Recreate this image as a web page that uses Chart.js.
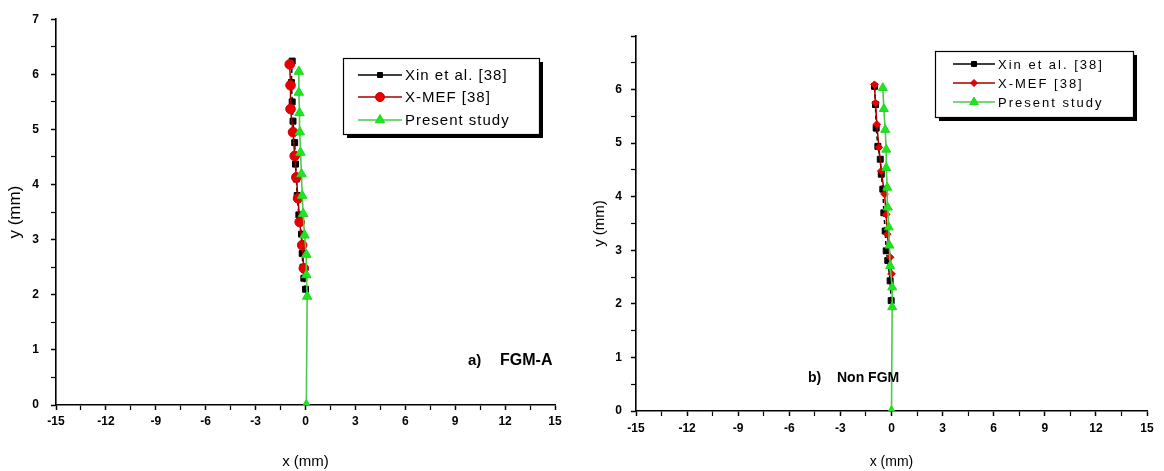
<!DOCTYPE html>
<html><head><meta charset="utf-8">
<script src="https://cdn.jsdelivr.net/npm/chart.js@4/dist/chart.umd.min.js"></script>
<style>
html,body{margin:0;padding:0;background:#fff;}
#wrap{position:relative;width:1164px;height:471px;overflow:hidden;}
.c{position:absolute;top:0;width:582px;height:471px;}
</style></head><body>
<div id="wrap">
<div class="c" style="left:0"><canvas id="ca" width="582" height="471"></canvas></div>
<div class="c" style="left:582px"><canvas id="cb" width="582" height="471"></canvas></div>
</div>
<script>
// ---------- data ----------
const seriesLabels = ["Xin et al. [38]", "X-MEF [38]", "Present study"];
const xTickValues = [-15, -12, -9, -6, -3, 0, 3, 6, 9, 12, 15];
const yTickValuesA = [0, 1, 2, 3, 4, 5, 6, 7];
const yTickValuesB = [0, 1, 2, 3, 4, 5, 6];

// (a) FGM-A
const xinA_x = [0, -0.1, -0.15, -0.2, -0.24, -0.4, -0.5, -0.55, -0.6, -0.65, -0.75, -0.8, -0.85, -0.8];
const xinA_y = [2.1, 2.3, 2.5, 2.75, 3.1, 3.45, 3.8, 4.1, 4.37, 4.76, 5.15, 5.5, 5.85, 6.24];
const mefA_x = [-0.1, -0.2, -0.35, -0.45, -0.55, -0.65, -0.75, -0.9, -0.9, -0.95];
const mefA_y = [2.48, 2.9, 3.32, 3.75, 4.13, 4.52, 4.95, 5.37, 5.8, 6.18];
const presA_x = [0.05, 0.1, 0.05, 0.05, -0.06, -0.14, -0.2, -0.24, -0.3, -0.34, -0.36, -0.4, -0.4];
const presA_y = [0, 1.97, 2.36, 2.73, 3.08, 3.47, 3.8, 4.19, 4.58, 4.95, 5.3, 5.67, 6.05];

// (b) Non FGM
const xinB_x = [-0.02, -0.08, -0.22, -0.31, -0.37, -0.45, -0.51, -0.6, -0.66, -0.8, -0.9, -0.94, -1.0];
const xinB_y = [2.06, 2.43, 2.81, 2.99, 3.36, 3.7, 4.14, 4.42, 4.7, 4.94, 5.28, 5.72, 6.06];
const mefB_x = [0.0, -0.08, -0.25, -0.31, -0.41, -0.6, -0.74, -0.86, -0.94, -1.0];
const mefB_y = [2.56, 2.87, 3.3, 3.67, 4.05, 4.48, 4.92, 5.35, 5.75, 6.09];
const presB_x = [0, 0.04, 0.04, -0.08, -0.12, -0.16, -0.22, -0.25, -0.31, -0.31, -0.37, -0.45, -0.51];
const presB_y = [0, 1.94, 2.31, 2.71, 3.09, 3.43, 3.8, 4.17, 4.54, 4.88, 5.25, 5.64, 6.03];

const zip = (xs, ys) => xs.map((x, i) => ({x: x, y: ys[i]}));

// ---------- helpers ----------
function drawMarker(ctx, style, x, y, r, fill, stroke) {
  ctx.save();
  ctx.fillStyle = fill; ctx.strokeStyle = stroke || fill; ctx.lineWidth = 1; ctx.setLineDash([]);
  ctx.beginPath();
  if (style === 'rect') {
    const s = r * Math.SQRT1_2;
    ctx.rect(x - s, y - s, 2 * s, 2 * s);
  } else if (style === 'rectRot') {
    ctx.moveTo(x, y - r); ctx.lineTo(x + r, y); ctx.lineTo(x, y + r); ctx.lineTo(x - r, y); ctx.closePath();
  } else if (style === 'triangle') {
    const w = r * Math.sqrt(3) / 2;
    ctx.moveTo(x, y - r); ctx.lineTo(x + w, y + r / 2); ctx.lineTo(x - w, y + r / 2); ctx.closePath();
  } else {
    ctx.arc(x, y, r, 0, Math.PI * 2);
  }
  ctx.fill(); ctx.stroke();
  ctx.restore();
}

const boxLegend = {
  id: 'boxLegend',
  afterDraw(chart, args, o) {
    const ctx = chart.ctx;
    ctx.save();
    ctx.fillStyle = '#000';
    ctx.fillRect(o.x + 4, o.y + 4, o.w, o.h);
    ctx.fillStyle = '#fff';
    ctx.fillRect(o.x, o.y, o.w, o.h);
    ctx.strokeStyle = '#000'; ctx.lineWidth = 1.2;
    ctx.strokeRect(o.x + 0.5, o.y + 0.5, o.w, o.h);
    chart.data.datasets.forEach((ds, i) => {
      const y = o.rows[i];
      ctx.strokeStyle = ds.borderColor; ctx.lineWidth = 1.5; ctx.setLineDash([]);
      ctx.beginPath(); ctx.moveTo(o.l0, y); ctx.lineTo(o.l1, y); ctx.stroke();
      drawMarker(ctx, ds.pointStyle, (o.l0 + o.l1) / 2, y, o.mr[i], ds.pointBackgroundColor, ds.pointBorderColor);
      ctx.fillStyle = '#000'; ctx.font = o.font;
      ctx.textBaseline = 'middle'; ctx.textAlign = 'left';
      if ('letterSpacing' in ctx) ctx.letterSpacing = o.ls;
      ctx.fillText(ds.label, o.tx, y + 1);
      if ('letterSpacing' in ctx) ctx.letterSpacing = '0px';
    });
    ctx.restore();
  }
};

const notes = {
  id: 'notes',
  afterDraw(chart, args, o) {
    const ctx = chart.ctx;
    ctx.save();
    ctx.fillStyle = '#000'; ctx.textBaseline = 'middle'; ctx.textAlign = 'left';
    o.items.forEach(t => { ctx.font = t.font; ctx.fillText(t.text, t.x, t.y); });
    ctx.restore();
  }
};

function makeDatasets(xinX, xinY, mefX, mefY, presX, presY, mefStyle, sizes) {
  return [
    {label: seriesLabels[0], data: zip(xinX, xinY), showLine: true, borderColor: '#000', borderWidth: 1.5,
     borderDash: [4, 3], pointStyle: 'rect', pointRadius: sizes[0], pointBackgroundColor: '#000',
     pointBorderColor: '#000', pointBorderWidth: 1, order: 2},
    {label: seriesLabels[1], data: zip(mefX, mefY), showLine: true, borderColor: '#a00000', borderWidth: 1.5,
     pointStyle: mefStyle, pointRadius: sizes[1], pointBackgroundColor: '#e60000',
     pointBorderColor: '#d00000', pointBorderWidth: 1, order: 1},
    {label: seriesLabels[2], data: zip(presX, presY), showLine: true, borderColor: '#4cc94c', borderWidth: 1.6,
     pointStyle: 'triangle', pointRadius: sizes[2], pointBackgroundColor: '#1ee61e',
     pointBorderColor: '#1ed81e', pointBorderWidth: 1, order: 0}
  ];
}

function makeOptions(cfg) {
  const isMajorX = v => xTickValues.some(t => Math.abs(t - v) < 1e-6);
  const isMajorY = v => cfg.yLabels.some(t => Math.abs(t - v) < 1e-6);
  return {
    responsive: false, animation: false,
    layout: {padding: cfg.pad},
    plugins: {
      legend: {display: false}, tooltip: {enabled: false},
      boxLegend: cfg.legend, notes: {items: cfg.notes}
    },
    scales: {
      x: {
        type: 'linear', min: -15, max: 15,
        afterFit: s => { s.height = cfg.xH; },
        afterBuildTicks: s => { const t = []; for (let v = -15; v <= 15.0001; v += 1.5) t.push({value: Math.round(v * 10) / 10}); s.ticks = t; },
        ticks: {autoSkip: false, maxRotation: 0, color: '#000', padding: cfg.xTickPad,
          font: {family: 'Liberation Sans, Arial, sans-serif', size: 12, weight: 'bold'},
          callback: v => isMajorX(v) ? String(Math.round(v)) : ''},
        grid: {drawOnChartArea: false, drawTicks: true, tickLength: 5, tickColor: '#000',
          tickWidth: c => (c.tick && isMajorX(c.tick.value)) ? 1.5 : 1.2},
        border: {display: true, color: '#000', width: 1.6},
        title: {display: true, text: 'x (mm)', color: '#000', padding: {top: cfg.xTitlePad, bottom: 0},
          font: {family: 'Liberation Sans, Arial, sans-serif', size: cfg.xTitleSize}}
      },
      y: {
        type: 'linear', min: 0, max: 7,
        afterFit: s => { s.width = cfg.yW; },
        afterBuildTicks: s => { const t = []; for (let v = 0; v <= 7.0001; v += 0.5) t.push({value: v}); s.ticks = t; },
        ticks: {autoSkip: false, color: '#000', padding: cfg.yTickPad,
          font: {family: 'Liberation Sans, Arial, sans-serif', size: 12, weight: 'bold'},
          callback: v => isMajorY(v) ? String(Math.round(v)) : ''},
        grid: {drawOnChartArea: false, drawTicks: true, tickLength: 5, tickColor: '#000',
          tickWidth: c => (c.tick && Number.isInteger(c.tick.value)) ? 1.5 : 1.2},
        border: {display: true, color: '#000', width: 1.6},
        title: {display: true, text: 'y (mm)', color: '#000', padding: {top: cfg.yTitlePad, bottom: 0},
          font: {family: 'Liberation Sans, Arial, sans-serif', size: cfg.yTitleSize}}
      }
    }
  };
}

new Chart(document.getElementById('ca'), {
  type: 'scatter',
  data: {datasets: makeDatasets(xinA_x, xinA_y, mefA_x, mefA_y, presA_x, presA_y, 'circle', [4.2, 4.8, 5.5])},
  options: makeOptions({
    pad: {left: 0, top: 15, right: 27, bottom: 0},
    xH: 66, yW: 56, xTickPad: 4, yTickPad: 12,
    xTitlePad: 10, xTitleSize: 15, yTitlePad: 5, yTitleSize: 17,
    yLabels: yTickValuesA,
    legend: {x: 343, y: 58, w: 196, h: 76, rows: [75, 97, 120], l0: 358, l1: 402, tx: 405,
      mr: [3.5, 4.5, 5.5], font: '15px "Liberation Sans", Arial, sans-serif', ls: '1px'},
    notes: [
      {text: 'a)', x: 468, y: 361, font: 'bold 15px "Liberation Sans", Arial, sans-serif'},
      {text: 'FGM-A', x: 500, y: 361, font: 'bold 16px "Liberation Sans", Arial, sans-serif'}
    ]
  }),
  plugins: [boxLegend, notes]
});

new Chart(document.getElementById('cb'), {
  type: 'scatter',
  data: {datasets: makeDatasets(xinB_x, xinB_y, mefB_x, mefB_y, presB_x, presB_y, 'rectRot', [4.2, 3.8, 5.2])},
  options: makeOptions({
    pad: {left: 0, top: 36, right: 17, bottom: 0},
    xH: 60, yW: 54, xTickPad: 5, yTickPad: 9,
    xTitlePad: 2, xTitleSize: 14, yTitlePad: 9, yTitleSize: 15,
    yLabels: yTickValuesB,
    legend: {x: 353, y: 51, w: 198, h: 66, rows: [64, 83, 102], l0: 371, l1: 413, tx: 416,
      mr: [3.5, 3.5, 5], font: '13px "Liberation Sans", Arial, sans-serif', ls: '2px'},
    notes: [
      {text: 'b)', x: 226, y: 378, font: 'bold 14px "Liberation Sans", Arial, sans-serif'},
      {text: 'Non FGM', x: 255, y: 378, font: 'bold 14px "Liberation Sans", Arial, sans-serif'}
    ]
  }),
  plugins: [boxLegend, notes]
});
</script>
</body></html>
